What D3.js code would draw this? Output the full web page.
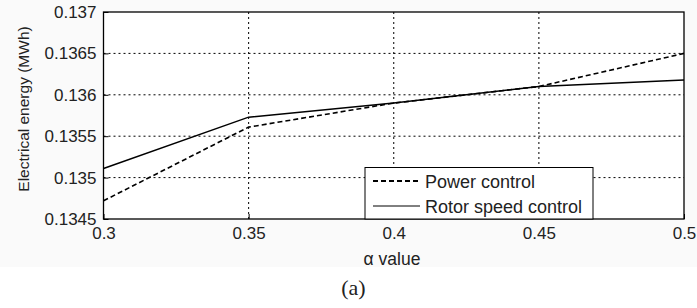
<!DOCTYPE html>
<html>
<head>
<meta charset="utf-8">
<script src="https://cdn.jsdelivr.net/npm/d3@7"></script>
<style>
  body { margin: 0; background: #fff; }
  svg text { font-family: "Liberation Sans", Arial, sans-serif; fill: #222; }
</style>
</head>
<body>
<div class="chart-wrapper"></div>
<script>
// data
const alphaValues = [0.3, 0.35, 0.4, 0.45, 0.5];
const powerControl = [0.13472, 0.13561, 0.13590, 0.13610, 0.13650];
const rotorSpeedControl = [0.13511, 0.13573, 0.13590, 0.13610, 0.13618];
const xTicks = [0.3, 0.35, 0.4, 0.45, 0.5];
const yTicks = [0.1345, 0.135, 0.1355, 0.136, 0.1365, 0.137];

const width = 697, height = 308;
const margin = {top: 12, right: 13, bottom: 89, left: 103.5};

const svg = d3.select('.chart-wrapper')
.append('svg')
.attr('width', width)
.attr('height', height);

// faint figure background
svg.append('rect')
.attr('x', 0).attr('y', 0)
.attr('width', width).attr('height', 267)
.attr('fill', '#fafafa');

const x = d3.scaleLinear()
.domain([0.3, 0.5])
.range([margin.left, width - margin.right]);

const y = d3.scaleLinear()
.domain([0.1345, 0.137])
.range([height - margin.bottom, margin.top]);

svg.append('rect')
.attr('x', x(0.3)).attr('y', y(0.137))
.attr('width', x(0.5) - x(0.3)).attr('height', y(0.1345) - y(0.137))
.attr('fill', '#fff');

// dotted grid
svg.append('g')
.selectAll('line')
.data(xTicks.slice(1, -1))
.enter()
.append('line')
.attr('x1', d => x(d)).attr('x2', d => x(d))
.attr('y1', y(0.137)).attr('y2', y(0.1345))
.attr('stroke', '#000')
.attr('stroke-width', 1)
.attr('stroke-dasharray', '2,3');

svg.append('g')
.selectAll('line')
.data(yTicks.slice(1, -1))
.enter()
.append('line')
.attr('x1', x(0.3)).attr('x2', x(0.5))
.attr('y1', d => y(d)).attr('y2', d => y(d))
.attr('stroke', '#000')
.attr('stroke-width', 1)
.attr('stroke-dasharray', '2,3');

// axes with inward ticks
const xAxis = svg.append('g')
.attr('transform', `translate(0,${y(0.1345)})`)
.call(d3.axisBottom(x).tickValues(xTicks).tickSize(-5).tickPadding(8).tickFormat(d3.format('')));

const yAxis = svg.append('g')
.attr('transform', `translate(${x(0.3)},0)`)
.call(d3.axisLeft(y).tickValues(yTicks).tickSize(-5).tickPadding(7).tickFormat(d3.format('')));

[xAxis, yAxis].forEach(a => {
    a.select('.domain').remove();
    a.selectAll('line').attr('stroke', '#000');
    a.selectAll('text').attr('font-size', 17).attr('fill', '#222')
    .attr('font-family', '"Liberation Sans", Arial, sans-serif');
});

// box
svg.append('rect')
.attr('x', x(0.3)).attr('y', y(0.137))
.attr('width', x(0.5) - x(0.3)).attr('height', y(0.1345) - y(0.137))
.attr('fill', 'none')
.attr('stroke', '#000')
.attr('stroke-width', 1.3);

const line = d3.line()
.x((d, i) => x(alphaValues[i]))
.y(d => y(d));

svg.append('path')
.datum(powerControl)
.attr('d', line)
.attr('fill', 'none')
.attr('stroke', '#000')
.attr('stroke-width', 1.6)
.attr('stroke-dasharray', '5,3');

svg.append('path')
.datum(rotorSpeedControl)
.attr('d', line)
.attr('fill', 'none')
.attr('stroke', '#000')
.attr('stroke-width', 1.5);

// legend
const legend = svg.append('g');
legend.append('rect')
.attr('x', 365).attr('y', 167.5)
.attr('width', 228).attr('height', y(0.1345) - 167.5)
.attr('fill', '#fff')
.attr('stroke', '#000')
.attr('stroke-width', 1);

const legendItems = [
    {name: 'Power control', dash: '5,3', w: 1.8},
    {name: 'Rotor speed control', dash: null, w: 1}
];

legendItems.forEach((d, i) => {
    const ly = 181 + i * 25;
    legend.append('line')
    .attr('x1', 373).attr('x2', 420)
    .attr('y1', ly).attr('y2', ly)
    .attr('stroke', '#000')
    .attr('stroke-width', d.w)
    .attr('stroke-dasharray', d.dash);
    legend.append('text')
    .attr('x', 425).attr('y', ly + 6.5)
    .attr('font-size', 18)
    .text(d.name);
});

// axis titles
svg.append('text')
.attr('x', 392).attr('y', 265)
.attr('text-anchor', 'middle')
.attr('font-size', 17.5)
.text('α value');

svg.append('text')
.attr('transform', `translate(29,109) rotate(-90)`)
.attr('text-anchor', 'middle')
.attr('font-size', 15.5)
.text('Electrical energy (MWh)');

svg.append('text')
.attr('x', 353.5).attr('y', 295)
.attr('text-anchor', 'middle')
.attr('font-size', 22)
.style('font-family', '"Liberation Serif", "Times New Roman", serif')
.text('(a)');
</script>
</body>
</html>
